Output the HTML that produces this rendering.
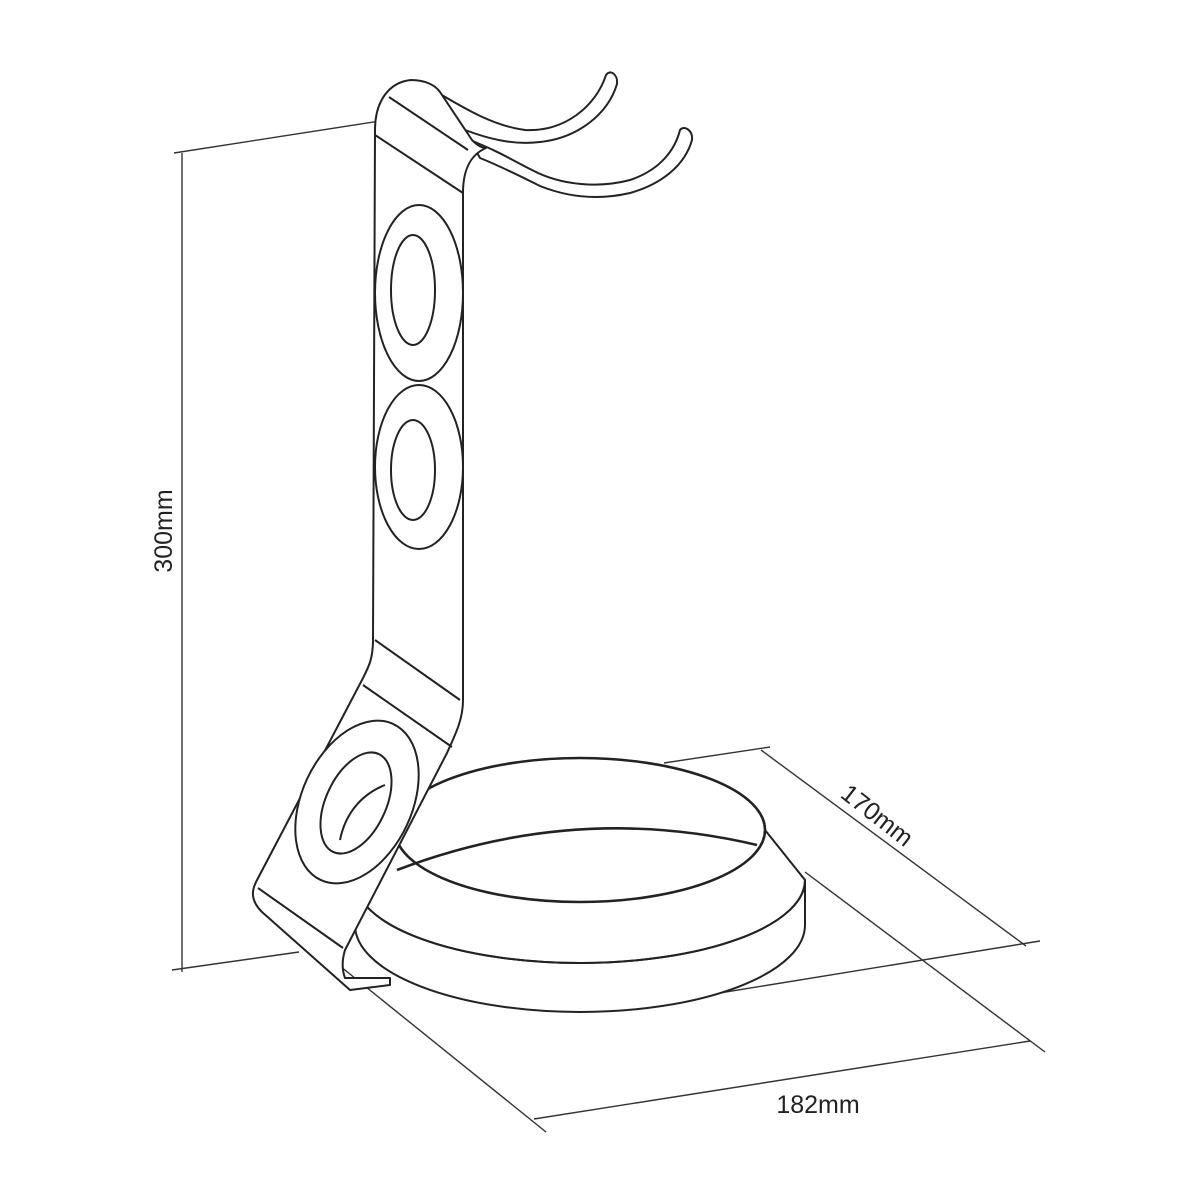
<!DOCTYPE html>
<html><head><meta charset="utf-8"><style>html,body{margin:0;padding:0;background:#fff}svg{display:block}</style></head>
<body>
<svg width="1200" height="1200" viewBox="0 0 1200 1200" xmlns="http://www.w3.org/2000/svg">
<g fill="none" stroke="#333" stroke-width="1.4">
<line x1="182" y1="153" x2="182" y2="972"/>
<line x1="174" y1="153" x2="438" y2="112"/>
<line x1="172" y1="970" x2="299" y2="952"/>
<line x1="664" y1="763" x2="770" y2="747"/>
<line x1="761" y1="750" x2="1026" y2="946"/>
<line x1="695" y1="997" x2="1040" y2="941"/>
<line x1="258" y1="900" x2="546" y2="1132"/>
<line x1="534" y1="1119" x2="1030" y2="1041"/>
<line x1="805" y1="872" x2="1045" y2="1052"/>
</g>
<g fill="#fff" stroke="#222" stroke-width="2" stroke-linejoin="round">
<path d="M355 880 L355 925 A225 87 0 0 0 805 925 L805 880 Z"/>
<path d="M395 830 L355 880 A225 83 0 0 0 805 880 L765 830 Z"/>
<path d="M355 880 A225 83 0 0 0 805 880" fill="none"/>
<ellipse cx="580" cy="830" rx="185" ry="72" stroke-width="2.6"/>
<path d="M397 870 Q575 802 757 845" fill="none" stroke-width="2.6"/>
<path d="M430 88 C470 112 495 126 525 130 C565 132 596 106 606 75 C610 69 618 74 617 84 C608 114 578 138 540 142 C515 145 490 140 460 128 Z"/>
<path d="M470 140 C500 152 512 160 532 170 C562 186 600 188 630 180 C660 170 675 150 680 130 C684 125 693 130 692 140 C685 165 662 184 630 193 C600 200 570 198 540 186 C520 176 500 166 480 158 Z"/>
<path d="M375 130 C375 100 390 82 411 80 C425 80 435 85 440 92 L472 140 C478 146 482 148 486 148 C470 155 463 170 463 193 L463 700 C463 720 455 735 447 753 L345 950 C342 960 342 970 345 978 L390 978 L390 985 L350 990 L262 912 C250 900 252 890 256 882 L362 680 C368 668 373 660 373 640 Z"/>
<path d="M389 97 L468 150"/>
<path d="M375 135 L463 193"/>
<path d="M375 640 L460 700"/>
<path d="M363 685 L452 747"/>
<path d="M258 888 L343 948"/>
<ellipse cx="419" cy="293" rx="44" ry="88"/>
<ellipse cx="413" cy="290" rx="22" ry="55"/>
<ellipse cx="419" cy="467" rx="44" ry="82"/>
<ellipse cx="413" cy="470" rx="22" ry="50"/>
<ellipse cx="357" cy="802" rx="55" ry="86" transform="rotate(25 357 802)"/>
<ellipse cx="356" cy="803" rx="30" ry="54" transform="rotate(25 356 803)"/>
<path d="M340 840 C345 815 360 795 385 785" fill="none"/>
</g>
<g font-family="Liberation Sans, sans-serif" font-size="25" fill="#222">
<text x="0" y="0" transform="translate(172 531) rotate(-90)" text-anchor="middle">300mm</text>
<text x="0" y="0" transform="translate(872 822) rotate(38)" text-anchor="middle">170mm</text>
<text x="818" y="1113" text-anchor="middle">182mm</text>
</g>
</svg>
</body></html>
